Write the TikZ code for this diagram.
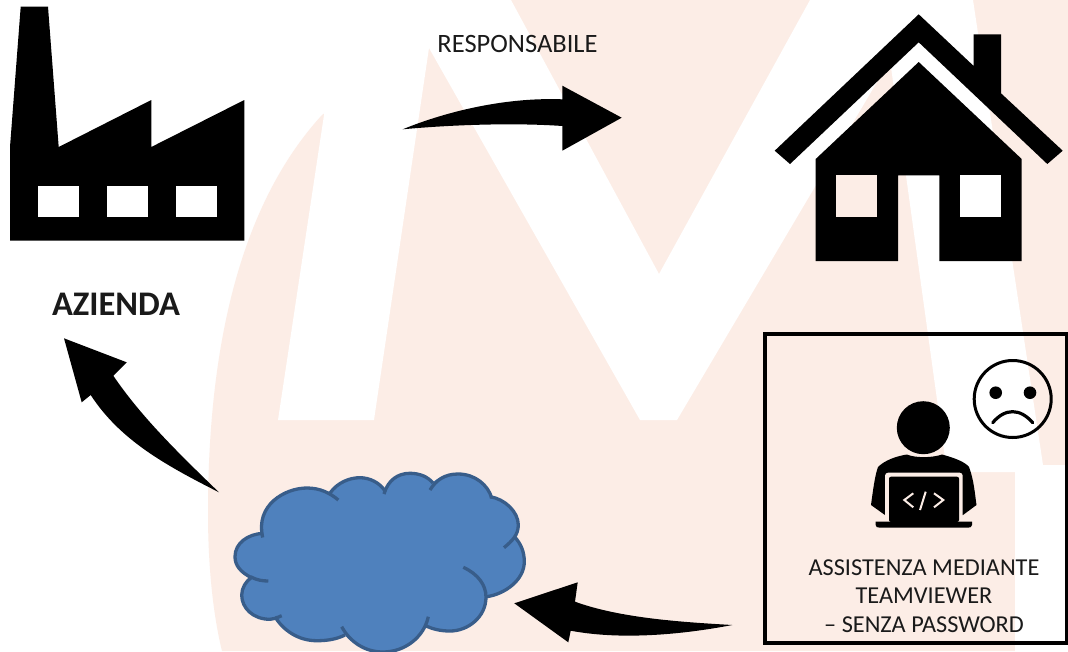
\documentclass[tikz,border=0pt]{standalone}
\usepackage{fontspec}
\setmainfont{Carlito}
\definecolor{peach}{HTML}{FCEDE6}
\definecolor{cloudfill}{HTML}{4F81BD}
\definecolor{cloudline}{HTML}{385D8A}
\definecolor{ink}{HTML}{1A1A1A}
\tikzset{
  icon/.style={fill=black,draw=none},
  hole/.style={fill=white,draw=none},
  holepeach/.style={fill=peach,draw=none},
  label/.style={anchor=base,text=ink,inner sep=0pt,font=\fontsize{24.3}{28}\selectfont},
  cloudstroke/.style={draw=cloudline,line width=3.3pt,line cap=butt},
}
\begin{document}
\begin{tikzpicture}[x=1pt,y=-1pt]
\useasboundingbox (0,0) rectangle (1068,651);
\clip (0,0) rectangle (1068,651);
\fill[white] (0,0) rectangle (1068,651);
% watermark
\fill[peach] (222,651) .. controls (212,610) and (208,560) .. (208,513)
  .. controls (208,360) and (235,210) .. (322,115) -- (429,40) -- (511,0) -- (1068,0)
  -- (1068,465) -- (1043,465) -- (1015,472) -- (1015,651) -- cycle;
\fill[white] (278,420) -- (324,115) -- (335,0) -- (511,0) -- (659,274) -- (810,0) -- (973,0)
  -- (1043,465) -- (1068,465) -- (1068,651) -- (1015,651) -- (1015,472) -- (947,472)
  -- (890,60) -- (677,420) -- (640,420) -- (429,48) -- (374,420) -- cycle;
% factory
\path[icon] (20.7,6.7) -- (48,6.7) -- (58.7,147) -- (151.3,100) -- (151.3,147) -- (244.3,100)
  -- (244.3,240.7) -- (10,240.7) -- (10,147) -- cycle;
\path[hole] (37.7,185.7) rectangle (79.3,216.7);
\path[hole] (106.7,185.7) rectangle (148,216.7);
\path[hole] (175.7,185.7) rectangle (217,216.7);
% house
\path[icon] (918.7,14.3) -- (973.7,66) -- (973.7,34.3) -- (1001,34.3) -- (1001,93.3) -- (1062.7,150.7)
  -- (1047.3,164) -- (918.7,42.3) -- (790,164) -- (774.7,150.7) -- cycle;
\path[icon] (918.7,62) -- (1021.7,159) -- (1021.7,261) -- (939.3,261) -- (939.3,175.3) -- (898,175.3)
  -- (898,261) -- (815.7,261) -- (815.7,159) -- cycle;
\path[holepeach] (836,175.3) rectangle (877.3,216.7);
\path[hole] (960,175.3) rectangle (1001.3,216.7);
% arrows
\path[icon] (402.7,129.3) .. controls (440,114) and (500,97) .. (562.3,99.3)
  -- (562.3,85.7) -- (621.7,117.7) -- (562.3,150.7) -- (562.3,126)
  .. controls (520,123) and (460,124) .. (402.7,129.3) -- cycle;
\path[icon] (219,492.3) .. controls (175,450) and (140,415) .. (113.3,375.7)
  -- (126.7,362.3) -- (64,338.3) -- (81.7,402.3) -- (90.7,395)
  .. controls (120,440) and (165,465) .. (219,492.3) -- cycle;
\path[icon] (732.3,625) .. controls (680,622) and (620,618) .. (575,601.7)
  -- (577.7,582.3) -- (514.3,603.3) -- (568.3,642.3) -- (570.7,630.7)
  .. controls (620,640) and (680,635) .. (732.3,625) -- cycle;
% cloud
\path[fill=cloudfill,draw=none] (263,533)
  .. controls (255,505) and (285,488) .. (307,488) .. controls (315,488) and (323,490) .. (330,493)
  .. controls (338,482) and (350,477.7) .. (360,477.7) .. controls (370,477.7) and (380,483) .. (385,490)
  .. controls (388,480) and (398,473.3) .. (410,473.3) .. controls (420,473.3) and (428,477) .. (433,482)
  .. controls (438,478) and (445,474) .. (458,474) .. controls (475,474) and (488,485) .. (491.7,497)
  .. controls (505,499) and (518.3,512) .. (518.3,525) .. controls (518.3,530) and (517,534) .. (515,537.3)
  .. controls (521,544) and (524.3,552) .. (524.3,561.7) .. controls (524.3,580) and (505,594) .. (486.7,596.7)
  .. controls (486,617) and (468,631) .. (450,631) .. controls (440,631) and (433,629) .. (426,626)
  .. controls (420,640) and (405,652) .. (383,652) .. controls (365,652) and (350,642) .. (345,635)
  .. controls (337,639) and (328,640.7) .. (316.7,640.7) .. controls (298,640.7) and (283,630) .. (275,618.5)
  .. controls (273,619) and (272,619.3) .. (270,619.3) .. controls (253,619.3) and (241.7,608) .. (241.7,595)
  .. controls (241.7,588) and (246,581) .. (250,577)
  .. controls (240,572) and (235,565) .. (235,556.7) .. controls (235,543) and (248,534) .. (263,533) -- cycle;
\path[cloudstroke] (262.7,537.5) .. controls (255,505) and (285,488) .. (307,488) .. controls (320,488) and (330,493) .. (338.3,500);
\path[cloudstroke] (330,493) .. controls (338,482) and (350,477.7) .. (360,477.7) .. controls (370,477.7) and (380,483) .. (385,491);
\path[cloudstroke] (384,494) .. controls (388,480) and (398,473.3) .. (410,473.3) .. controls (420,473.3) and (428,477) .. (433,483);
\path[cloudstroke] (430,490) .. controls (436,480) and (445,474) .. (458,474) .. controls (475,474) and (488,485) .. (491.7,498);
\path[cloudstroke] (490,496.7) .. controls (505,499) and (518.3,512) .. (518.3,525) .. controls (518.3,535) and (512,541) .. (504,547.7);
\path[cloudstroke] (515,537.3) .. controls (521,544) and (524.3,552) .. (524.3,561.7) .. controls (524.3,580) and (505,594) .. (486.7,596.7);
\path[cloudstroke] (463.3,567.3) .. controls (478,574) and (486,585) .. (486,597) .. controls (486,617) and (468,631) .. (450,631) .. controls (440,631) and (433,629) .. (426,626);
\path[cloudstroke] (428.3,616.7) .. controls (424,637) and (405,652) .. (383,652) .. controls (365,652) and (350,642) .. (341.7,626.7);
\path[cloudstroke] (345,635) .. controls (337,639) and (328,640.7) .. (316.7,640.7) .. controls (298,640.7) and (283,630) .. (275,616.7);
\path[cloudstroke] (281.7,615.7) .. controls (276,618) and (274,619.3) .. (270,619.3) .. controls (253,619.3) and (241.7,608) .. (241.7,595) .. controls (241.7,588) and (246,581) .. (251.7,577.3) .. controls (257,580) and (262,581) .. (268.3,581);
\path[cloudstroke] (252,578) .. controls (240,572) and (235,565) .. (235,556.7) .. controls (235,543) and (248,534) .. (263.3,533.3);
% box
\node[draw=black,line width=3.5pt,minimum width=302pt,minimum height=309pt,inner sep=0pt] (box) at (916,488.5) {};
% sad face
\node[draw=black,circle,line width=3pt,minimum size=77pt,inner sep=0pt] (face) at (1012.7,399) {};
\fill (995.7,392.7) circle[radius=6.3];
\fill (1030,392.7) circle[radius=6.3];
\draw[line width=3.2pt,line cap=round] (992.7,422.7) .. controls (1005,408) and (1020,408) .. (1032.7,422.7);
% man
\fill (923.3,427.7) circle[radius=26.5];
\path[icon] (907,454.5) .. controls (915,458) and (932,458) .. (942,454.5)
  .. controls (955,458) and (965,462) .. (969,467) .. controls (974,480) and (975,495) .. (976.5,505)
  -- (963,515) -- (885,515) -- (871,505)
  .. controls (873,490) and (875,475) .. (878,467) .. controls (885,460) and (897,456) .. (907,454.5) -- cycle;
\path[fill=peach,rounded corners=3pt] (885,472.7) rectangle (962.7,525);
\path[icon,rounded corners=2pt] (889,476.7) -- (959,476.7) -- (959,522) -- (889,522) -- cycle;
\path[icon] (875.7,521.7) -- (972,521.7) -- (972,525) .. controls (972,527) and (970,527.7) .. (968,527.7)
  -- (880,527.7) .. controls (877,527.7) and (875.7,527) .. (875.7,525) -- cycle;
\draw[peach,line width=2pt] (913.3,493.3) -- (904.3,500) -- (913.3,507.3);
\draw[peach,line width=2pt] (925.7,491.7) -- (920,510);
\draw[peach,line width=2pt] (934,493.3) -- (943.3,500) -- (934,507.3);
% text
\node[label,font=\fontsize{26.5}{30}\selectfont] (resp) at (517.5,52.7) {RESPONSABILE};
\node[label,font=\fontsize{34.5}{38}\selectfont\bfseries] (az) at (116,315) {AZIENDA};
\node[label] (l1) at (924,575) {ASSISTENZA MEDIANTE};
\node[label] (l2) at (924,603.5) {TEAMVIEWER};
\node[label] (l3) at (924,632.5) {– SENZA PASSWORD};
\end{tikzpicture}
\end{document}
